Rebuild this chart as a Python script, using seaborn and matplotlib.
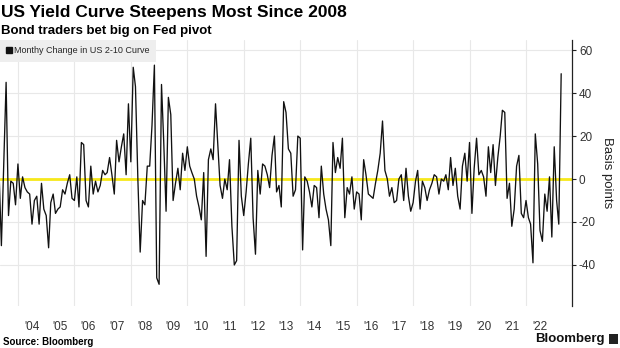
import matplotlib
matplotlib.use("Agg")
import numpy as np
import pandas as pd
import matplotlib.pyplot as plt
import matplotlib.dates as mdates
import matplotlib.ticker as mticker
from matplotlib.lines import Line2D
from matplotlib.patches import Rectangle
import seaborn as sns

# ---------------- data ----------------
title = "US Yield Curve Steepens Most Since 2008"
subtitle = "Bond traders bet big on Fed pivot"
series_label = "Monthy Change in US 2-10 Curve"
y_label = "Basis points"
source = "Source: Bloomberg"
first_month_end = "2003-04-30"

monthly_change = [
    4, -31, 7, 45, -17, -1, -2, -12, 7, -9, 1, -4, -6, -7, -21, -10, -8, -21, -2, -14,
    -17, -32, -11, -7, -16, -14, -13, -5, -7, -2, 2, -9, -10, 1, -13, 17, 16, -10, -13, 6,
    -7, -1, -6, -3, 4, 2, 3, 10, 2, -7, 18, 8, 15, 21, 2, 35, 8, 52, 43, 0,
    -34, -10, -12, 6, 6, 25, 53, -46, -49, 44, 18, -15, 38, 30, -10, -2, 5, -5, 12, 4,
    15, 6, 3, 0, -8, -13, -19, 3, -36, 9, 14, 9, 35, 15, -3, -9, 0, -5, 9, -22,
    -40, -38, 18, -8, -17, -6, 7, 19, -18, -35, 4, -7, 7, 6, 2, -4, 11, 20, -6, -3,
    -13, 36, 31, 14, 12, -8, -5, 20, 19, -33, 1, -1, -6, -13, -3, -4, -18, 6, -7, -14,
    -19, -31, 17, 3, 10, 5, 19, -18, -4, -7, 1, -14, -6, -7, -19, 9, 2, -7, -8, -9,
    -2, 4, 12, 27, 4, 0, -8, -4, -11, -10, 0, 2, -10, 5, -8, -15, -11, -1, 4, -14,
    -1, -4, -10, -5, -2, 2, 1, -7, 0, -1, 2, -5, 10, -3, 5, -8, -14, 6, 12, -1,
    17, -16, 5, 19, 2, 4, 1, -8, 15, 3, 16, -3, 10, 20, 32, 31, -9, -2, -22, -14,
    6, 11, -16, -18, -10, -18, -21, -39, 21, 7, -24, -29, -7, -15, 1, -27, 15, -10, -21, 49,
]

label_years = list(range(2004, 2023))
year_labels = ["'04", "'05", "'06", "'07", "'08", "'09", "'10", "'11", "'12", "'13",
               "'14", "'15", "'16", "'17", "'18", "'19", "'20", "'21", "'22"]
y_ticks = [-40, -20, 0, 20, 40, 60]

# ---------------- frame ----------------
try:
    dates = pd.date_range(first_month_end, periods=len(monthly_change), freq="ME")
except Exception:
    dates = pd.date_range(first_month_end, periods=len(monthly_change), freq="M")
df = pd.DataFrame({"date": dates, "change": monthly_change})

sns.set_theme(style="white")
plt.rcParams["font.family"] = ["Liberation Sans", "DejaVu Sans"]

W, H = 620, 348
fig = plt.figure(figsize=(W / 100, H / 100), dpi=100)
ax = fig.add_axes([0 / W, 1 - 306 / H, 572 / W, (306 - 40) / H])

ax.axhline(0, color="#f7e81a", lw=2.0, zorder=2)
sns.lineplot(data=df, x="date", y="change", ax=ax, color="#111111", lw=0.95, zorder=3)

x0 = pd.Timestamp("2004-01-01")
ax.set_xlim(x0 - pd.Timedelta(days=233), x0 + pd.Timedelta(days=int(19.63 * 365.25)))
ax.set_ylim(-59.1, 64.7)

# grid + ticks
ax.xaxis.set_major_locator(mdates.YearLocator(base=2, month=1, day=1))
ax.xaxis.set_major_formatter(mticker.NullFormatter())
mid = [mdates.date2num(pd.Timestamp(f"{y}-07-02")) for y in label_years]
ax.xaxis.set_minor_locator(mticker.FixedLocator(mid))
ax.xaxis.set_minor_formatter(mticker.FixedFormatter(year_labels))
ax.tick_params(axis="x", which="both", length=0)
ax.tick_params(axis="x", which="minor", pad=11, labelsize=8.5, labelcolor="#333333")
ax.grid(axis="x", which="major", color="#e8e8e8", lw=0.8)

ax.yaxis.tick_right()
ax.yaxis.set_label_position("right")
ax.set_yticks(y_ticks)
ax.set_yticklabels([str(v) for v in y_ticks])
ax.tick_params(axis="y", length=3, width=0.8, color="#222222", pad=2,
               labelsize=8.5, labelcolor="#333333", right=True, left=False)
ax.grid(axis="y", color="#e8e8e8", lw=0.8)
ax.set_ylabel(y_label, rotation=270, labelpad=12, fontsize=9.5, color="#222222")
ax.set_xlabel("")

for s in ["left", "top", "bottom"]:
    ax.spines[s].set_visible(False)
ax.spines["right"].set_color("#222222")
ax.spines["right"].set_linewidth(0.9)

# legend
handle = Line2D([], [], marker="s", color="none", markerfacecolor="#111111",
                markeredgecolor="#111111", markersize=4)
leg = ax.legend([handle], [series_label], loc="upper left", bbox_to_anchor=(0, 1),
                borderaxespad=0, frameon=True, fancybox=False, fontsize=6.5,
                handlelength=0.6, handletextpad=0.3, borderpad=0.7)
leg.get_frame().set_facecolor("#eeeeee")
leg.get_frame().set_edgecolor("none")
leg.get_frame().set_alpha(1)

# titles and footer
fig.text(1 / W, 1 - 12 / H, title, fontsize=12.5, fontweight="bold", va="center", ha="left", color="#000000")
fig.text(1 / W, 1 - 31 / H, subtitle, fontsize=9.5, fontweight="bold", va="center", ha="left", color="#000000")
fig.text(3 / W, 1 - 342 / H, source, fontsize=7, fontweight="bold", va="center", ha="left", color="#000000")
fig.text(605 / W, 1 - 339 / H, "Bloomberg", fontsize=9.5, fontweight="bold", va="center", ha="right", color="#111111")
fig.patches.append(Rectangle((609 / W, 1 - 344 / H), 9 / W, 10 / H, transform=fig.transFigure,
                             facecolor="#222222", edgecolor="none"))

fig.savefig("out.png", dpi=100)
